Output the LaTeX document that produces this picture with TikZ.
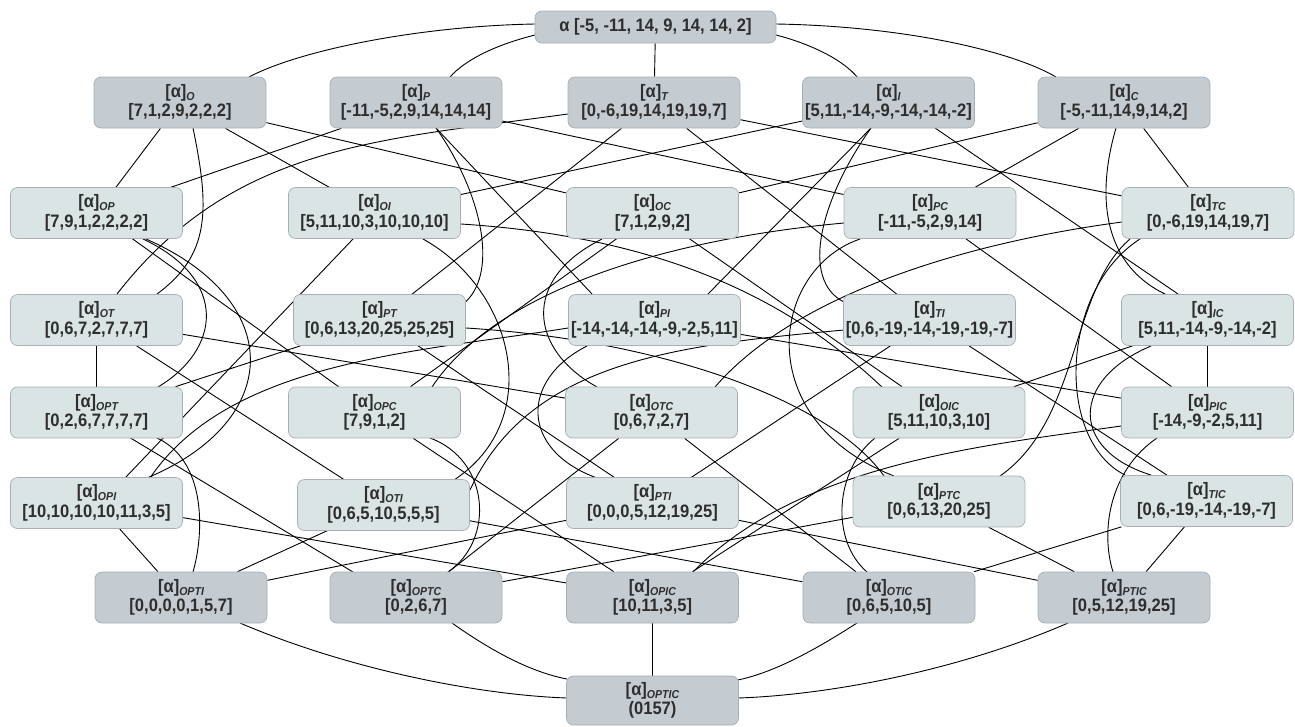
\documentclass[tikz,border=0pt]{standalone}
\usepackage{fontspec}
\setmainfont[FakeStretch=0.92]{Liberation Sans}
\usetikzlibrary{calc}
\definecolor{boxdark}{HTML}{C4CCD2}
\definecolor{boxlight}{HTML}{DAE4E4}
\definecolor{boxline}{HTML}{A7AFB3}
\definecolor{ink}{HTML}{2E2E2E}
\pgfdeclarelayer{edges}
\pgfsetlayers{edges,main}
\newcommand{\sublbl}[1]{\raisebox{-0.3ex}{\fontsize{11.5}{11.5}\selectfont\itshape #1}}
\newcommand{\lbl}[2]{[α]\sublbl{#1}\\[0pt]#2}
\tikzset{
  cell/.style={rectangle, rounded corners=7pt, draw=boxline, line width=0.7pt,
    minimum width=172pt, minimum height=51pt, inner sep=0pt, align=center,
    text=ink, font=\bfseries\fontsize{18}{19.5}\selectfont},
  dark/.style={cell, fill=boxdark},
  light/.style={cell, fill=boxlight},
  link/.style={draw=black, line width=0.9pt}
}
\begin{document}
\begin{tikzpicture}[x=1pt,y=-1pt]
\useasboundingbox (0,0) rectangle (1295,726);
% ---- lattice nodes ----
\node[dark, minimum width=241pt, minimum height=32pt] (a) at (655.5,27) {α [-5, -11, 14, 9, 14, 14, 2]};
\node[dark] (O) at (180,102.5) {\lbl{O}{[7,1,2,9,2,2,2]}};
\node[dark] (P) at (416,102.5) {\lbl{P}{[-11,-5,2,9,14,14,14]}};
\node[dark] (T) at (654,102.5) {\lbl{T}{[0,-6,19,14,19,19,7]}};
\node[dark] (I) at (888.5,102.5) {\lbl{I}{[5,11,-14,-9,-14,-14,-2]}};
\node[dark] (C) at (1124,102.5) {\lbl{C}{[-5,-11,14,9,14,2]}};

\node[light] (OP) at (96.5,213) {\lbl{OP}{[7,9,1,2,2,2,2]}};
\node[light] (OI) at (374.5,213) {\lbl{OI}{[5,11,10,3,10,10,10]}};
\node[light] (OC) at (652.5,213) {\lbl{OC}{[7,1,2,9,2]}};
\node[light] (PC) at (930,213) {\lbl{PC}{[-11,-5,2,9,14]}};
\node[light] (TC) at (1208,213) {\lbl{TC}{[0,-6,19,14,19,7]}};

\node[light] (OT) at (96.5,320) {\lbl{OT}{[0,6,7,2,7,7,7]}};
\node[light] (PT) at (379.5,320) {\lbl{PT}{[0,6,13,20,25,25,25]}};
\node[light] (PI) at (654.5,320) {\lbl{PI}{[-14,-14,-14,-9,-2,5,11]}};
\node[light] (TI) at (929.5,320) {\lbl{TI}{[0,6,-19,-14,-19,-19,-7]}};
\node[light] (IC) at (1207.5,320) {\lbl{IC}{[5,11,-14,-9,-14,-2]}};

\node[light] (OPT) at (96.5,412.5) {\lbl{OPT}{[0,2,6,7,7,7,7]}};
\node[light] (OPC) at (374.5,412.5) {\lbl{OPC}{[7,9,1,2]}};
\node[light] (OTC) at (651.5,412.5) {\lbl{OTC}{[0,6,7,2,7]}};
\node[light] (OIC) at (939,412.5) {\lbl{OIC}{[5,11,10,3,10]}};
\node[light] (PIC) at (1207.5,412.5) {\lbl{PIC}{[-14,-9,-2,5,11]}};

\node[light] (OPI) at (96.5,503) {\lbl{OPI}{[10,10,10,10,11,3,5]}};
\node[light] (OTI) at (383.5,505) {\lbl{OTI}{[0,6,5,10,5,5,5]}};
\node[light] (PTI) at (652.5,503) {\lbl{PTI}{[0,0,0,5,12,19,25]}};
\node[light] (PTC) at (939,501.5) {\lbl{PTC}{[0,6,13,20,25]}};
\node[light] (TIC) at (1206.5,501) {\lbl{TIC}{[0,6,-19,-14,-19,-7]}};

\node[dark] (OPTI) at (181,597.5) {\lbl{OPTI}{[0,0,0,0,1,5,7]}};
\node[dark] (OPTC) at (416,597.5) {\lbl{OPTC}{[0,2,6,7]}};
\node[dark] (OPIC) at (652.5,597.5) {\lbl{OPIC}{[10,11,3,5]}};
\node[dark] (OTIC) at (889,597.5) {\lbl{OTIC}{[0,6,5,10,5]}};
\node[dark] (PTIC) at (1124,597.5) {\lbl{PTIC}{[0,5,12,19,25]}};

\node[dark, minimum height=49pt] (OPTIC) at (652.5,700.5) {\lbl{OPTIC}{(0157)}};

% ---- connectors, drawn underneath the boxes ----
\begin{pgfonlayer}{edges}
% top element
\draw[link] ($(a)+(-120.5,-3)$) .. controls +(-115,2) and +(51,-27) .. ($(O)+(69,-25.5)$);
\draw[link] ($(a)+(-120.5,8)$) .. controls +(-40,10) and +(15,-17) .. ($(P)+(34,-25.5)$);
\draw[link] (a) -- (T);
\draw[link] ($(a)+(120.5,8)$) .. controls +(39,10) and +(-12,-15) .. ($(I)+(-31.5,-25.5)$);
\draw[link] ($(a)+(120.5,-3)$) .. controls +(124,2) and +(-46,-27) .. ($(C)+(-68,-25.5)$);
% singletons
\draw[link] (O) -- (OP);
\draw[link] (O) -- (OI);
\draw[link] (O) -- (OC);
\draw[link] ($(O)+(13,25.5)$) .. controls +(17,82) and +(53,-39) .. ($(OT)+(60.5,-26)$);
\draw[link] (P) -- (OP);
\draw[link] (P) -- (PC);
\draw[link] ($(P)+(20,25.5)$) .. controls +(44,62) and +(34,-32) .. ($(PT)+(86,-18)$);
\draw[link] ($(P)+(20,25.5)$) -- ($(PI)+(-62.5,-26)$);
\draw[link] (T) -- (TC);
\draw[link] (T) -- (PT);
\draw[link] (T) -- (TI);
\draw[link] ($(T)+(-86,11.5)$) .. controls +(-188,26) and +(117,-150) .. ($(OT)+(20.5,-26)$);
\draw[link] (I) -- (OI);
\draw[link] ($(I)+(-17.5,25.5)$) -- ($(PI)+(53.5,-26)$);
\draw[link] ($(I)+(-17.5,25.5)$) .. controls +(-51,72) and +(-44,-22) .. ($(TI)+(-85.5,-18)$);
\draw[link] ($(I)+(46.5,25.5)$) -- ($(IC)+(-29.5,-26)$);
\draw[link] (C) -- (OC);
\draw[link] (C) -- (PC);
\draw[link] (C) -- (TC);
\draw[link] ($(C)+(-8,25.5)$) .. controls +(-21,72) and +(-60,-29) .. ($(IC)+(-42.5,-26)$);
% pairs
\draw[link] ($(OP)+(46.5,26)$) .. controls +(87,41) and +(62,-37) .. ($(OPT)+(61.5,-25.5)$);
\draw[link] (OP) -- (OPC);
\draw[link] ($(OP)+(49.5,26)$) .. controls +(139,61) and +(138,-58) .. ($(OPI)+(50.5,-25)$);
\draw[link] ($(OI)+(86.5,11)$) .. controls +(219,14) and +(-82,-77) .. ($(OIC)+(-57,-25.5)$);
\draw[link] ($(OI)+(-21.5,26)$) -- ($(OPI)+(28.5,-25)$);
\draw[link] ($(OI)+(48.5,26)$) .. controls +(92,51) and +(91,-60) .. ($(OTI)+(70.5,-25)$);
\draw[link] (OC) -- (OPC);
\draw[link] ($(OC)+(-50.5,26)$) .. controls +(-82,41) and +(-67,-37) .. ($(OTC)+(-54.5,-25.5)$);
\draw[link] (OC) -- (OIC);
\draw[link] ($(PC)+(-86,10)$) .. controls +(-164,15) and +(68,-102) .. ($(OPC)+(57.5,-25.5)$);
\draw[link] (PC) -- (PIC);
\draw[link] ($(PC)+(-70,26)$) .. controls +(-90,31) and +(-144,-56) .. ($(PTC)+(-45,-25.5)$);
\draw[link] ($(TC)+(-86,9)$) .. controls +(-172,23) and +(75,-87) .. ($(OTC)+(63.5,-25.5)$);
\draw[link] ($(TC)+(-78,26)$) .. controls +(-60,51) and +(80,-56) .. ($(PTC)+(61,-25.5)$);
\draw[link] ($(TC)+(-68,26)$) .. controls +(-80,51) and +(-70,-35) .. ($(TIC)+(-81.5,-26)$);
\draw[link] (OT) -- (OPT);
\draw[link] (OT) -- (OTC);
\draw[link] (OT) -- (OTI);
\draw[link] (PT) -- (OPT);
\draw[link] (PT) -- (PTI);
\draw[link] ($(PT)+(86.5,8)$) .. controls +(194,12) and +(-54,-76) .. ($(PTC)+(-55,-25.5)$);
\draw[link] ($(PI)+(-86.5,8)$) .. controls +(-148,24) and +(80,-118) .. ($(OPI)+(53.5,-25)$);
\draw[link] (PI) -- (PIC);
\draw[link] ($(PI)+(-67.5,26)$) .. controls +(-67,34) and +(-77,-28) .. ($(PTI)+(-55.5,-25)$);
\draw[link] ($(TI)+(-85.5,10)$) .. controls +(-164,15) and +(60,-130) .. ($(OTI)+(86.5,-15)$);
\draw[link] (TI) -- (PTI);
\draw[link] (TI) -- (TIC);
\draw[link] (IC) -- (OIC);
\draw[link] (IC) -- (PIC);
\draw[link] ($(IC)+(-56.5,26)$) .. controls +(-81,34) and +(-81,-25) .. ($(TIC)+(-55.5,-26)$);
% triples
\draw[link] ($(OPT)+(60.5,25.5)$) .. controls +(48,22) and +(12,-42) .. ($(OPTI)+(12,-25.5)$);
\draw[link] ($(OPT)+(34,25.5)$) -- ($(OPTC)+(-63,-25.5)$);
\draw[link] ($(OPC)+(55.5,25.5)$) .. controls +(60,22) and +(47,-32) .. ($(OPTC)+(32,-25.5)$);
\draw[link] (OPC) -- (OPIC);
\draw[link] (OTC) -- (OPTC);
\draw[link] (OTC) -- (OTIC);
\draw[link] (OIC) -- (OPIC);
\draw[link] ($(OIC)+(-64,25.5)$) .. controls +(-40,32) and +(-37,-32) .. ($(OTIC)+(-22,-25.5)$);
\draw[link] ($(PIC)+(-86.5,13.5)$) .. controls +(-131,19) and +(107,-110) .. ($(OPIC)+(40.5,-25.5)$);
\draw[link] ($(PIC)+(-50.5,25.5)$) .. controls +(-47,32) and +(-13,-42) .. ($(PTIC)+(-11,-25.5)$);
\draw[link] (OPI) -- (OPTI);
\draw[link] (OPI) -- (OPIC);
\draw[link] (OTI) -- (OPTI);
\draw[link] (OTI) -- (OTIC);
\draw[link] (PTI) -- (OPTI);
\draw[link] (PTI) -- (PTIC);
\draw[link] (PTC) -- (OPTC);
\draw[link] (PTC) -- (PTIC);
\draw[link] (TIC) -- (OTIC);
\draw[link] (TIC) -- (PTIC);
% quadruples to the bottom element
\draw[link] ($(OPTI)+(59,25.5)$) .. controls +(110,47) and +(-87,-3) .. ($(OPTIC)+(-85.5,-2.5)$);
\draw[link] ($(OPTC)+(36,25.5)$) .. controls +(38,27) and +(-37,-7) .. ($(OPTIC)+(-85.5,-21.5)$);
\draw[link] (OPIC) -- (OPTIC);
\draw[link] ($(OTIC)+(-32,25.5)$) .. controls +(-42,27) and +(37,-8) .. ($(OPTIC)+(85.5,-20.5)$);
\draw[link] ($(PTIC)+(-56,25.5)$) .. controls +(-108,47) and +(92,-3) .. ($(OPTIC)+(85.5,-2.5)$);
\end{pgfonlayer}
\end{tikzpicture}
\end{document}
